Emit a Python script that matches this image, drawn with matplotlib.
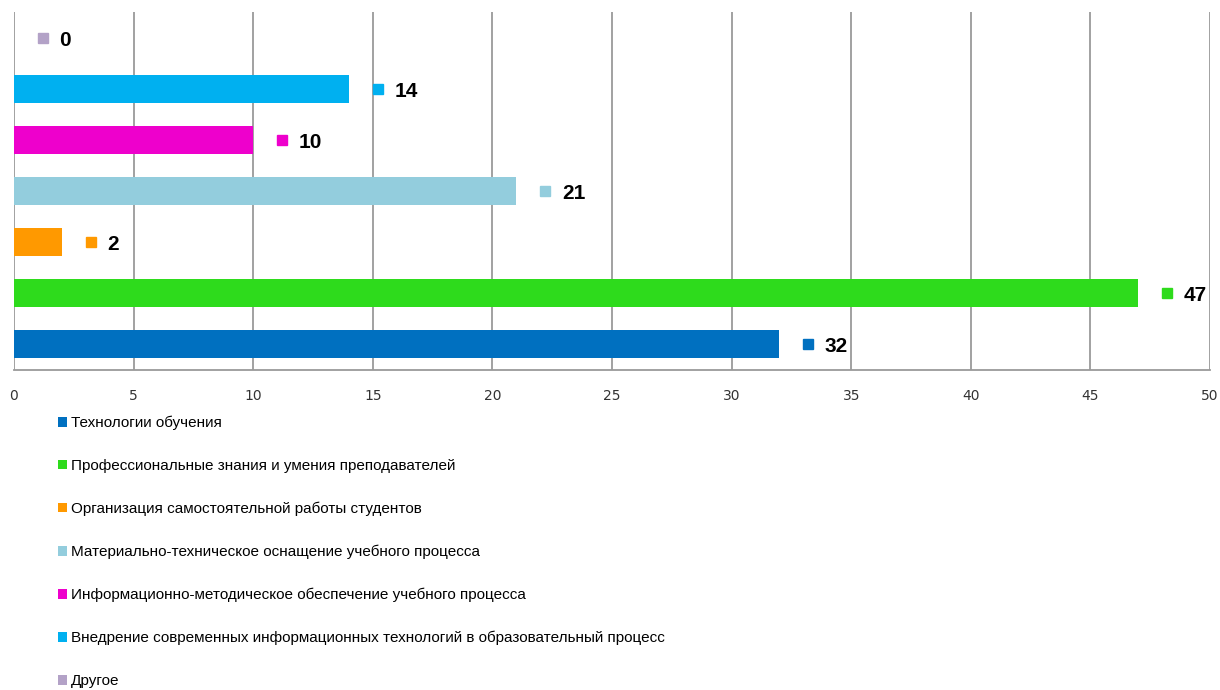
import matplotlib.pyplot as plt
from matplotlib.patches import Patch
from matplotlib import font_manager

categories = [
    "Технологии обучения",
    "Профессиональные знания и умения преподавателей",
    "Организация самостоятельной работы студентов",
    "Материально-техническое оснащение учебного процесса",
    "Информационно-методическое обеспечение учебного процесса",
    "Внедрение современных информационных технологий в образовательный процесс",
    "Другое",
]
values = [32, 47, 2, 21, 10, 14, 0]
colors = ["#0070C0", "#2EDB1C", "#FF9900", "#93CDDD", "#EE00CC", "#00B0F0", "#B3A2C7"]
x_ticks = [0, 5, 10, 15, 20, 25, 30, 35, 40, 45, 50]

names = {f.name for f in font_manager.fontManager.ttflist}
narrow = "Liberation Sans Narrow" if "Liberation Sans Narrow" in names else "Liberation Sans"
plt.rcParams['font.family'] = [narrow, 'DejaVu Sans']

fig = plt.figure(figsize=(12.2, 6.9), dpi=100)
ax = fig.add_axes([14 / 1220, 1 - 370 / 690, 1196 / 1220, 358 / 690])

ypos = list(range(len(values)))
ax.barh(ypos, values, height=0.55, color=colors, zorder=3)

# data labels: small square marker followed by bold value
for y, v, c in zip(ypos, values, colors):
    ax.plot(v + 1.2, y, marker="s", markersize=7, color=c, linestyle="none", zorder=4)
    ax.text(v + 1.9, y - 0.05, str(v), va="center", ha="left", fontsize=15,
            fontweight="bold", color="black", zorder=4)

ax.set_xlim(0, 50)
ax.set_ylim(-0.5, len(values) - 0.5)
ax.set_xticks(x_ticks)
ax.set_yticks([])
ax.tick_params(axis="x", length=0, pad=14, labelsize=10, labelcolor="#333333")
for lbl in ax.get_xticklabels():
    lbl.set_fontfamily(["DejaVu Sans"])
ax.grid(axis="x", color="#9A9A9A", linewidth=1.3, zorder=0)
for side in ["top", "right", "left"]:
    ax.spines[side].set_visible(False)
ax.spines["bottom"].set_color("#9A9A9A")
ax.spines["bottom"].set_linewidth(1.3)

handles = [Patch(facecolor=c, edgecolor="none") for c in colors]
fig.legend(handles, categories, loc="upper left", bbox_to_anchor=(50 / 1220, 1 - 408 / 690),
           frameon=False, fontsize=11, handlelength=0.6, handleheight=0.6,
           handletextpad=0.25, labelspacing=1.88, borderpad=0)

fig.savefig("out.png", dpi=100)
